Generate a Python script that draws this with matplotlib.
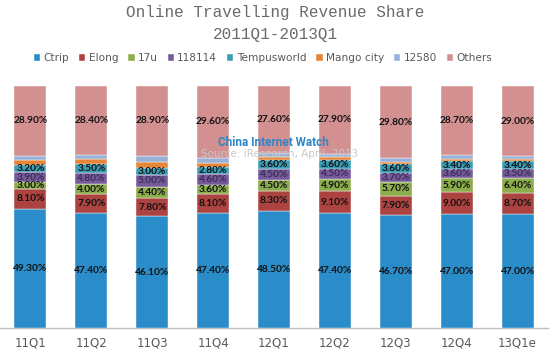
import matplotlib
matplotlib.use("Agg")
import matplotlib.pyplot as plt
import numpy as np

categories = ["11Q1", "11Q2", "11Q3", "11Q4", "12Q1", "12Q2", "12Q3", "12Q4", "13Q1e"]
series_names = ["Ctrip", "Elong", "17u", "118114", "Tempusworld", "Mango city", "12580", "Others"]
ctrip = [49.3, 47.4, 46.1, 47.4, 48.5, 47.4, 46.7, 47.0, 47.0]
elong = [8.1, 7.9, 7.8, 8.1, 8.3, 9.1, 7.9, 9.0, 8.7]
u17 = [3.0, 4.0, 4.4, 3.6, 4.5, 4.9, 5.7, 5.9, 6.4]
s118114 = [3.9, 4.8, 5.0, 4.6, 4.5, 4.5, 3.7, 3.6, 3.5]
tempus = [3.2, 3.5, 3.0, 2.8, 3.6, 3.6, 3.6, 3.4, 3.4]
mango = [1.9, 2.1, 2.5, 1.8, 1.1, 1.2, 1.2, 1.1, 0.9]
s12580 = [1.7, 1.9, 2.3, 2.1, 1.9, 1.4, 1.4, 1.3, 1.1]
others = [28.9, 28.4, 28.9, 29.6, 27.6, 27.9, 29.8, 28.7, 29.0]

series = [ctrip, elong, u17, s118114, tempus, mango, s12580, others]
colors = ["#2a8cc8", "#ad4341", "#8bad4b", "#775a9b", "#3a9db5", "#e5863a", "#98b1d9", "#d39090"]
labeled = [True, True, True, True, True, False, False, True]
label_colors = ["#111111", "#111111", "#111111", "#3b2e55", "#111111", None, None, "#111111"]

W, H = 550, 352
fig = plt.figure(figsize=(W / 100, H / 100), dpi=100)
ax = fig.add_axes([0, (H - 328) / H, 548 / W, (328 - 86) / H])

x = np.arange(len(categories))
bottom = np.zeros(len(categories))
bars_all = []
for vals, c, name in zip(series, colors, series_names):
    ax.bar(x, vals, 0.525, bottom=bottom, color=c, label=name, zorder=3,
           edgecolor="#ffffff", linewidth=0.3)
    bars_all.append((vals, bottom.copy()))
    bottom = bottom + np.array(vals)

for (vals, bot), lab, lc in zip(bars_all, labeled, label_colors):
    if not lab:
        continue
    for xi, v, b0 in zip(x, vals, bot):
        ax.text(xi, b0 + v / 2, f"{v:.2f}%", ha="center", va="center",
                fontsize=7.3, color=lc, fontweight="bold", family="Lato",
                zorder=5)

ax.set_xlim(-0.5, len(categories) - 0.5)
ax.set_ylim(0, 100)
for s in ["top", "right", "left"]:
    ax.spines[s].set_visible(False)
ax.spines["bottom"].set_color("#bfbfbf")
ax.spines["bottom"].set_linewidth(1.0)
ax.set_yticks([])
ax.set_xticks(x)
ax.set_xticklabels(categories, fontsize=8.5, color="#595959")
ax.tick_params(axis="x", length=0, pad=6)

# watermark
fig.text(280 / W, 1 - 154 / H, "Source: iResearch, April, 2013", ha="center", va="center",
         fontsize=7.5, color="#c8c8c8", zorder=1)
fig.text(273 / W, 1 - 143 / H, "China Internet Watch", ha="center", va="center",
         fontsize=8.5, color="#2e86c8", fontweight="bold", family="Roboto", zorder=10)

fig.text(0.5, 1 - 13 / H, "Online Travelling Revenue Share", ha="center", va="center",
         fontsize=11.5, color="#6a6a6a", family="Liberation Mono")
fig.text(0.5, 1 - 34 / H, "2011Q1-2013Q1", ha="center", va="center",
         fontsize=11.5, color="#6a6a6a", family="Liberation Mono")

leg = fig.legend(loc="center", bbox_to_anchor=(263 / W, 1 - 58 / H), ncol=8, frameon=False,
                 fontsize=7.6, handlelength=0.6, handleheight=0.6, handletextpad=0.3,
                 columnspacing=0.95, labelcolor="#595959")

fig.savefig("out.png", dpi=100)
